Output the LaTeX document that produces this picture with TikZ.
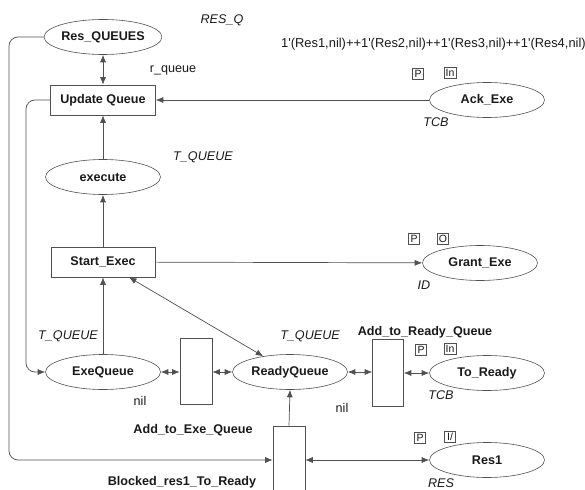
\documentclass[tikz,border=0pt]{standalone}
\usepackage{fontspec}
\setmainfont{Liberation Sans}[Ligatures=TeXOff]
\usetikzlibrary{arrows.meta,shapes.geometric}
\definecolor{linec}{HTML}{505050}
\definecolor{textc}{HTML}{1A1A1A}
\newcommand\fsz{\fontsize{12.6}{15}\selectfont}
\newcommand\psz{\fontsize{10.5}{12}\selectfont}
\begin{document}
\begin{tikzpicture}[x=1pt,y=-1pt,
  every node/.style={text=textc, inner sep=0pt},
  place/.style={ellipse, draw=linec, line width=0.6pt, minimum width=115, minimum height=35, font=\bfseries\fsz},
  trans/.style={rectangle, draw=linec, line width=0.6pt, font=\bfseries\fsz},
  lab/.style={font=\bfseries\fsz},
  insc/.style={font=\fsz},
  typ/.style={font=\itshape\fsz},
  port/.style={rectangle, draw=linec, line width=0.5pt, font=\psz, minimum height=11, minimum width=11, inner xsep=1.5pt},
  arc/.style={draw=linec, line width=0.7pt, -{Latex[length=7.5pt,width=6pt]}},
  barc/.style={draw=linec, line width=0.7pt, {Latex[length=7.5pt,width=6pt]}-{Latex[length=7.5pt,width=6pt]}}
]
\useasboundingbox (0,0) rectangle (585,489);
\fill[white] (0,0) rectangle (585,489);
\clip (0,0) rectangle (585,489);

% places
\node[place] (resq) at (103,37) {Res\_QUEUES};
\node[place] (ack) at (487,100) {Ack\_Exe};
\node[place] (exec) at (103,177) {execute};
\node[place] (grant) at (480,263) {Grant\_Exe};
\node[place] (eq) at (103,372) {ExeQueue};
\node[place] (rq) at (290,372) {ReadyQueue};
\node[place] (tor) at (487,373) {To\_Ready};
\node[place] (res1) at (487,460) {Res1};

% transitions
\node[trans, minimum width=105, minimum height=30] (uq) at (103,100) {Update Queue};
\node[trans, minimum width=104, minimum height=30] (se) at (103,262) {Start\_Exec};
\node[trans, minimum width=32, minimum height=66] (ate) at (196,371) {};
\node[trans, minimum width=31, minimum height=67] (atr) at (388,373) {};
\node[trans, minimum width=32, minimum height=90] (blk) at (289,471) {};

% ports
\node[port] (ackp) at (418,74) {P};
\node[port] (acki) at (450,73) {In};
\node[port] (grp) at (414,239) {P};
\node[port] (gro) at (443,239) {O};
\node[port] (trp) at (421,350) {P};
\node[port] (tri) at (450,349) {In};
\node[port] (r1p) at (420,438) {P};
\node[port] (r1i) at (450,437) {I/};

% labels
\node[typ] (tresq) at (222,20) {RES\_Q};
\node[insc, anchor=west] (init) at (281,44) {\fontsize{12.9}{15}\selectfont 1'(Res1,nil)++1'(Res2,nil)++1'(Res3,nil)++1'(Res4,nil)};
\node[insc] (rqueue) at (173,70) {r\_queue};
\node[typ] (tack) at (436,122) {TCB};
\node[typ] (texec) at (203,157) {T\_QUEUE};
\node[typ] (tgrant) at (424,285) {ID};
\node[typ] (teq) at (68,336) {T\_QUEUE};
\node[typ] (trq) at (310,336) {T\_QUEUE};
\node[insc] (nileq) at (140,401) {nil};
\node[insc] (nilrq) at (342,408) {nil};
\node[lab] (late) at (193,430) {Add\_to\_Exe\_Queue};
\node[lab] (latr) at (425,332) {Add\_to\_Ready\_Queue};
\node[typ] (ttor) at (441,395) {TCB};
\node[lab] (lblk) at (182,482) {Blocked\_res1\_To\_Ready};
\node[typ] (tres1) at (441,483) {RES};

% helper coordinates
\coordinate (outer) at (9,0);
\coordinate (inner) at (26,0);

% arcs
\draw[barc] (resq) -- (uq);
\draw[arc] (ack) -- (uq);
\draw[arc] (exec) -- (uq);
\draw[arc] (se) -- (exec);
\draw[arc] (eq) -- (se);
\draw[arc] (se) -- (grant);
\draw[barc] (se) -- (rq);
\draw[barc] (eq) -- (ate.west |- eq);
\draw[barc] (ate.east |- rq) -- (rq);
\draw[barc] (rq) -- (atr.west |- rq);
\draw[barc] (atr.east |- tor) -- (tor);
\draw[arc] (blk.north) -- (rq.south);
\draw[barc] (blk.east |- res1) -- (res1);
\draw[arc, rounded corners=9] (resq.west) -- (resq.west -| outer) -- (outer |- res1.west) -- (blk.west |- res1.west);
\draw[arc, rounded corners=9] (uq.west) -- (uq.west -| inner) -- (inner |- eq.west) -- (eq.west);
\end{tikzpicture}
\end{document}
